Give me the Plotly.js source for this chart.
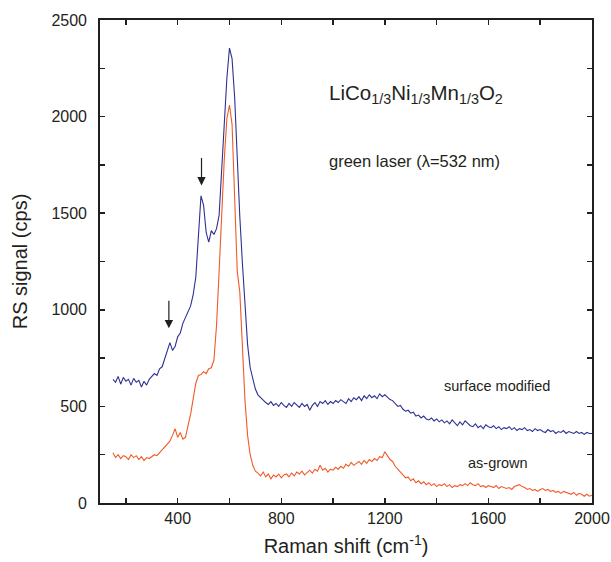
<!DOCTYPE html>
<html>
<head>
<meta charset="utf-8">
<script src="https://cdn.plot.ly/plotly-3.0.1.min.js"></script>
<style>
html,body{margin:0;padding:0;background:#fff;}
#chart{width:611px;height:562px;}
</style>
</head>
<body>
<div id="chart"></div>
<script>
// Raman shift (cm^-1)
const ramanShift = [
150,160,170,180,190,200,210,220,230,240,250,260,270,280,290,300,310,320,330,340,
350,360,370,380,390,400,410,420,430,440,450,460,470,480,490,500,510,520,530,540,
550,560,570,580,590,600,610,620,630,640,650,660,670,680,690,700,710,720,730,740,
750,760,770,780,790,800,810,820,830,840,850,860,870,880,890,900,910,920,930,940,
950,960,970,980,990,1000,1010,1020,1030,1040,1050,1060,1070,1080,1090,1100,1110,1120,1130,1140,
1150,1160,1170,1180,1190,1200,1210,1220,1230,1240,1250,1260,1270,1280,1290,1300,1310,1320,1330,1340,
1350,1360,1370,1380,1390,1400,1410,1420,1430,1440,1450,1460,1470,1480,1490,1500,1510,1520,1530,1540,
1550,1560,1570,1580,1590,1600,1610,1620,1630,1640,1650,1660,1670,1680,1690,1700,1710,1720,1730,1740,
1750,1760,1770,1780,1790,1800,1810,1820,1830,1840,1850,1860,1870,1880,1890,1900,1910,1920,1930,1940,
1950,1960,1970,1980,1990,2000
];

// surface modified (cps)
const surfaceModified = [
640,625,655,615,650,630,640,610,645,625,635,600,630,610,640,655,670,660,695,705,
750,790,830,790,810,860,880,930,960,995,1020,1080,1170,1380,1590,1540,1400,1350,1410,1390,
1420,1490,1720,1950,2200,2355,2300,2100,1780,1480,1240,1000,820,700,640,590,560,545,530,520,
510,525,505,515,500,520,505,495,515,500,520,505,495,515,500,510,480,505,520,500,
525,515,530,510,525,515,530,520,535,525,515,540,525,545,535,550,530,555,540,560,
545,555,540,565,550,560,545,535,530,515,500,505,485,475,480,465,470,450,455,440,
450,435,430,440,425,435,420,430,415,425,410,430,415,400,420,405,425,410,400,395,
410,390,400,385,405,395,390,400,385,395,380,390,385,395,380,390,375,385,380,390,
375,380,370,385,375,380,370,365,380,370,375,360,370,365,375,360,370,365,360,370,
360,365,355,365,360,360
];

// as-grown (cps)
const asGrown = [
260,235,250,230,245,240,225,250,235,245,225,240,220,235,230,240,250,245,260,270,
285,300,320,350,385,340,365,330,340,400,460,540,620,660,665,680,670,695,700,740,
920,1200,1500,1780,1990,2060,1960,1560,1200,1090,800,530,350,250,195,165,155,140,160,135,
150,125,145,135,150,130,145,150,135,155,140,160,150,165,145,160,170,155,175,165,
195,170,180,160,175,170,185,175,190,180,200,190,210,195,205,215,200,220,205,225,
215,230,220,240,235,265,245,225,215,190,175,160,140,130,135,115,125,105,115,100,
110,95,105,90,100,85,95,90,100,85,95,80,90,85,95,90,100,90,105,95,
90,100,85,90,80,90,85,80,90,75,85,80,75,80,70,85,90,95,85,80,
70,75,65,70,60,70,75,65,70,60,65,55,60,50,60,55,50,45,55,40,
50,45,35,45,35,40
];

const fontFam = 'Liberation Sans, Arial, Helvetica, sans-serif';
const ink = '#231f20';

const traces = [
  {x: ramanShift, y: surfaceModified, type: 'scatter', mode: 'lines', name: 'surface modified',
   line: {color: '#2e3192', width: 1.1}},
  {x: ramanShift, y: asGrown, type: 'scatter', mode: 'lines', name: 'as-grown',
   line: {color: '#f15a29', width: 1.1}}
];

const layout = {
  width: 611, height: 562,
  margin: {l: 100, r: 19, t: 20, b: 59},
  paper_bgcolor: '#fff', plot_bgcolor: '#fff',
  showlegend: false,
  font: {family: fontFam, color: ink},
  xaxis: {
    range: [100, 2000], tickmode: 'linear', tick0: 0, dtick: 400,
    ticks: 'inside', ticklen: 5, tickwidth: 1.5, tickcolor: ink,
    minor: {tickmode: 'linear', tick0: 0, dtick: 200, ticks: 'inside', ticklen: 5, tickwidth: 1.5, tickcolor: ink, showgrid: false},
    showline: true, linecolor: ink, linewidth: 1.8, mirror: 'ticks',
    showgrid: false, zeroline: false,
    tickfont: {size: 16, family: fontFam, color: ink},
    title: {text: 'Raman shift (cm<sup>-1</sup>)', font: {size: 20, family: fontFam, color: ink}, standoff: 13}
  },
  yaxis: {
    range: [0, 2500], tickmode: 'linear', tick0: 0, dtick: 500,
    ticks: 'inside', ticklen: 5, tickwidth: 1.5, tickcolor: ink,
    minor: {tickmode: 'linear', tick0: 0, dtick: 250, ticks: 'inside', ticklen: 5, tickwidth: 1.5, tickcolor: ink, showgrid: false},
    showline: true, linecolor: ink, linewidth: 1.8, mirror: 'ticks',
    showgrid: false, zeroline: false,
    tickfont: {size: 16, family: fontFam, color: ink},
    ticklabelstandoff: 8,
    title: {text: 'RS signal (cps)', font: {size: 20, family: fontFam, color: ink}, standoff: 18}
  },
  annotations: [
    {x: 1322, y: 2119, xref: 'x', yref: 'y', showarrow: false,
     text: 'LiCo<sub>1/3</sub>Ni<sub>1/3</sub>Mn<sub>1/3</sub>O<sub>2</sub>',
     font: {size: 20.5, family: fontFam, color: ink}},
    {x: 1314, y: 1772, xref: 'x', yref: 'y', showarrow: false,
     text: 'green laser (λ=532 nm)',
     font: {size: 16.5, family: fontFam, color: ink}},
    {x: 1634, y: 604, xref: 'x', yref: 'y', showarrow: false,
     text: 'surface modified',
     font: {size: 14.5, family: fontFam, color: ink}},
    {x: 1636, y: 205, xref: 'x', yref: 'y', showarrow: false,
     text: 'as-grown',
     font: {size: 14.5, family: fontFam, color: ink}},
    {x: 366, y: 904, xref: 'x', yref: 'y', text: ' ', showarrow: true,
     ax: 0, ay: -36, arrowhead: 2, arrowsize: 1.4, arrowwidth: 1.2, arrowcolor: ink, standoff: 0},
    {x: 492, y: 1644, xref: 'x', yref: 'y', text: ' ', showarrow: true,
     ax: 0, ay: -36, arrowhead: 2, arrowsize: 1.4, arrowwidth: 1.2, arrowcolor: ink, standoff: 0}
  ]
};

Plotly.newPlot('chart', traces, layout, {displayModeBar: false, staticPlot: true});
</script>
</body>
</html>
